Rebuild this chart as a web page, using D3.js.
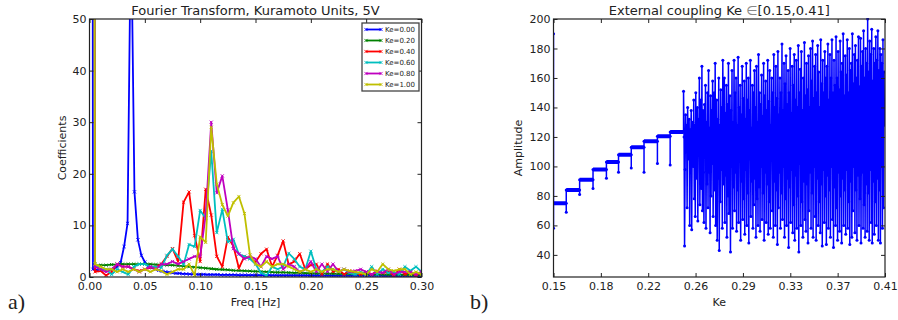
<!DOCTYPE html>
<html><head><meta charset="utf-8">
<script src="https://cdn.jsdelivr.net/npm/d3@7"></script>
<style>
body{margin:0;background:#fff}
svg{display:block}
text{font-family:"DejaVu Sans",sans-serif;fill:#222}
</style>
</head><body>
<svg id="c" width="898" height="320"></svg>
<script>
// ---------------- LEFT PANEL DATA (Fourier coefficients) ----------------
const freqStep = 0.005;        // frequency spacing of the Ke>0 spectra [Hz]
const blueFreqStep = 0.003125; // frequency spacing of the Ke=0.00 spectrum [Hz]
const seriesNames = ["Ke=0.00","Ke=0.20","Ke=0.40","Ke=0.60","Ke=0.80","Ke=1.00"];
const freqTicks = [0.00,0.05,0.10,0.15,0.20,0.25,0.30];
const coefTicks = [0,10,20,30,40,50];

const coefKe000 = [800,1.5,1.4,1.3,1.3,1.3,1.4,1.6,2.0,2.8,5.9,10.4,70,16.5,7.2,4.2,2.9,2.2,1.8,1.5,1.3,1.1,1.0,0.9,0.8,0.7,0.7,0.6,0.6,
 0.55,0.55,0.5,0.5,0.5,0.45,0.45,0.45,0.45,0.4,
 0.4,0.4,0.4,0.4,0.38,0.38,0.38,0.36,0.36,0.36,
 0.35,0.35,0.34,0.34,0.33,0.33,0.32,0.32,0.32,0.31,
 0.31,0.3,0.3,0.3,0.3,0.29,0.29,0.29,0.28,0.28,
 0.28,0.28,0.27,0.27,0.27,0.27,0.26,0.26,0.26,0.26,
 0.26,0.25,0.25,0.25,0.25,0.25,0.24,0.24,0.24,0.24,
 0.24,0.23,0.23,0.23,0.23,0.23,0.22,0.22];
const coefKe020 = [800,2.2,2.3,2.3,2.4,2.4,2.5,2.5,2.5,2.5,
 2.5,2.5,2.4,2.4,2.3,2.3,2.2,2.1,2.0,1.9,
 1.8,1.7,1.6,1.5,1.45,1.4,1.3,1.25,1.2,1.15,
 1.1,1.05,1.0,0.95,0.9,0.9,0.85,0.8,0.8,0.75,
 0.75,0.7,0.7,0.65,0.65,0.6,0.6,0.6,0.55,0.55,
 0.55,0.5,0.5,0.5,0.45,0.45,0.45,0.4,0.4,0.4,0.4];
const coefKe040 = [800,1.0,1.2,0.3,1.0,2.5,2.0,2.0,1.5,1.2,
 1.5,1.8,2.0,2.5,4.0,5.5,3.0,14.5,16.5,8.0,
 3.0,17.0,12.0,4.0,2.0,7.7,6.0,1.7,4.0,3.6,
 2.9,4.5,5.4,2.0,4.2,7.0,2.4,3.0,4.5,1.5,
 2.3,2.5,0.5,2.5,1.0,1.5,0.5,1.2,0.8,0.5,
 1.0,0.5,1.2,0.8,1.0,0.3,1.5,0.5,1.0,0.3,1.0];
const coefKe060 = [800,2.5,1.5,1.5,0.5,1.5,1.0,0.5,2.0,2.5,
 2.5,2.0,2.0,1.8,4.2,5.4,4.0,2.4,6.3,5.9,
 12.9,11.4,24.4,8.6,13.1,6.8,7.3,4.4,4.0,3.5,
 2.5,0.8,0.3,2.0,1.5,2.0,4.6,3.5,2.0,1.5,
 5.0,1.5,1.0,2.0,1.5,1.0,1.5,0.8,0.5,1.0,
 0.5,2.0,0.5,1.5,0.8,1.0,0.5,2.0,1.2,2.0,1.0];
const coefKe080 = [800,2.0,1.5,1.0,1.5,2.5,2.0,2.0,1.5,1.0,
 1.5,2.0,1.5,2.5,2.5,3.0,2.5,3.0,3.5,4.0,
 4.0,12.0,30.0,16.3,19.6,13.0,5.5,4.5,3.5,4.0,
 3.5,2.0,4.0,3.5,4.0,1.5,2.5,2.0,1.0,1.5,
 3.0,1.0,2.5,1.0,2.5,1.0,1.5,1.0,1.2,1.5,
 1.0,0.5,1.0,0.8,1.5,0.5,1.0,1.0,1.0,0.5,1.0];
const coefKe100 = [800,2.5,2.0,1.5,1.5,1.0,1.5,1.0,1.5,1.0,
 1.5,1.0,1.5,1.2,0.5,1.0,1.5,1.5,2.5,0.3,
 7.8,6.7,29.0,18.0,14.0,11.8,14.4,15.6,12.3,4.3,
 2.5,2.0,3.0,2.0,2.5,2.5,2.0,1.5,1.0,1.5,
 1.0,1.5,1.0,1.5,1.5,1.0,1.5,1.2,1.0,0.8,
 0.5,1.5,1.0,2.5,1.5,1.2,1.5,1.5,0.5,1.0,0.5];

// ---------------- RIGHT PANEL DATA (Amplitude vs Ke) ----------------
const keTickLabels = ["0.15","0.18","0.22","0.26","0.29","0.33","0.37","0.41"];
const ampTicks = [40,60,80,100,120,140,160,180,200];
const stepStartKe = [0.150,0.160,0.1705,0.181,0.1915,0.201,0.211,0.221,0.2315,0.2415];
const stepEndKe   = 0.252;
const stepLevel   = [75,84,91,98,103,108,113,117,120.5,123.3];
const stepDip     = [58,69,81,85,92,96,99,96,102,101];
const firstSpike  = 190;
const chaosStartKe = 0.252;
const chaosStepKe  = 0.0004;
const chaosAmp = [
 151,120,46,98,135,110,128,72,140,118,105,132,60,125,115,138,57,122,130,100,
 145,78,128,66,150,92,118,140,63,132,108,160,74,120,145,85,168,70,138,96,
 62,142,110,155,58,130,88,150,72,165,96,126,55,148,80,138,102,158,66,122,
 150,84,170,60,118,145,50,132,92,160,43,128,76,152,98,140,58,172,88,120,
 160,62,136,94,155,52,142,80,170,68,125,148,42,138,100,165,58,130,86,172,
 70,150,96,160,56,128,84,174,62,140,108,155,50,135,90,168,64,146,78,158,
 54,132,98,170,60,145,82,160,48,138,105,172,66,126,90,155,58,150,74,165,
 92,140,52,168,78,130,60,176,86,150,56,142,100,162,64,134,82,170,50,148,
 96,158,62,138,88,172,54,144,76,165,58,128,104,160,70,150,52,176,90,140,
 60,168,84,146,47,178,72,135,96,160,58,150,82,183,64,138,100,170,52,156,
 78,175,60,142,92,165,45,150,86,180,62,136,98,168,55,155,74,176,50,145,
 94,172,58,140,80,182,42,150,102,166,60,178,76,138,52,160,90,184,64,148,
 56,170,88,152,48,175,70,140,96,180,58,158,82,185,52,146,100,168,66,176,
 50,150,92,182,60,164,76,140,55,186,88,156,46,172,98,150,62,178,80,160,
 47,168,94,183,58,145,84,176,52,160,100,186,64,150,45,172,86,155,60,188,
 72,160,50,178,96,152,56,185,80,164,48,170,92,190,60,148,84,175,54,162,
 98,186,58,150,76,180,47,165,90,170,52,190,70,156,100,176,55,182,84,160,
 50,172,94,188,60,154,78,187,48,168,96,178,58,192,74,160,52,180,88,170,
 56,200,82,164,50,185,98,176,62,193,48,158,90,180,54,170,76,188,60,172,
 92,192,50,165,84,180,48,176,100,170,58,186,72,164,128];

// ---------------- DRAWING ----------------
const svg = d3.select("#c");
const FRAME = "#222";
const defs = svg.append("defs");

function drawFrame(g, x, y, L, R, T, B, xTicks, xFmt, yTicks, yFmt) {
  const ax = (sel) => { sel.select(".domain").remove();
    sel.selectAll("line").attr("stroke", FRAME);
    sel.attr("font-family", null).attr("font-size", null);
    sel.selectAll("text").style("font-size","11px").attr("fill","#222"); };
  g.append("g").attr("transform",`translate(0,${B})`)
    .call(d3.axisBottom(x).tickValues(xTicks).tickFormat(xFmt).tickSize(-4).tickPadding(5)).call(ax);
  g.append("g").attr("transform",`translate(0,${T})`)
    .call(d3.axisTop(x).tickValues(xTicks).tickFormat("").tickSize(-4)).call(ax);
  g.append("g").attr("transform",`translate(${L},0)`)
    .call(d3.axisLeft(y).tickValues(yTicks).tickFormat(yFmt).tickSize(-4).tickPadding(3)).call(ax);
  g.append("g").attr("transform",`translate(${R},0)`)
    .call(d3.axisRight(y).tickValues(yTicks).tickFormat("").tickSize(-4)).call(ax);
  g.append("rect").attr("x",L).attr("y",T).attr("width",R-L).attr("height",B-T)
    .attr("fill","none").attr("stroke",FRAME).attr("stroke-width",1.2);
}

// ===== Left panel =====
{
  const L=89.5, R=421.5, T=19, B=277;
  const x = d3.scaleLinear().domain([0,0.30]).range([L,R]);
  const y = d3.scaleLinear().domain([0,50]).range([B,T]);
  const g = svg.append("g");
  defs.append("clipPath").attr("id","clipL")
    .append("rect").attr("x",L).attr("y",T).attr("width",R-L).attr("height",B-T);

  const colors = ["#0000ff","#008000","#ff0000","#00bfbf","#bf00bf","#bfbf00"];
  const series = [
    {vals:coefKe000, df:blueFreqStep},
    {vals:coefKe020, df:freqStep},
    {vals:coefKe040, df:freqStep},
    {vals:coefKe060, df:freqStep},
    {vals:coefKe080, df:freqStep},
    {vals:coefKe100, df:freqStep}
  ];
  const plot = g.append("g").attr("clip-path","url(#clipL)");
  const line = d3.line().x(d=>x(d[0])).y(d=>y(d[1]));
  const xm = "M-1.6,-1.6L1.6,1.6M-1.6,1.6L1.6,-1.6";
  series.forEach((s,i)=>{
    const pts = s.vals.map((v,k)=>[k*s.df, v]);
    plot.append("path").attr("d", line(pts)).attr("fill","none")
      .attr("stroke", colors[i]).attr("stroke-width",1.8).attr("stroke-linejoin","round");
    plot.append("g").selectAll("path").data(pts).join("path")
      .attr("transform", d=>`translate(${x(d[0])},${y(Math.min(d[1],60))})`)
      .attr("d", xm).attr("stroke", colors[i]).attr("stroke-width",0.9).attr("fill","none");
  });

  drawFrame(g, x, y, L, R, T, B, freqTicks, d3.format(".2f"), coefTicks, d3.format("d"));

  // legend
  const lg = g.append("g");
  lg.append("rect").attr("x",362).attr("y",23).attr("width",57).attr("height",68)
    .attr("fill","#fff").attr("stroke","#444").attr("stroke-width",1.3);
  seriesNames.forEach((n,i)=>{
    const yy = 29.5 + i*11;
    lg.append("line").attr("x1",366).attr("x2",381).attr("y1",yy).attr("y2",yy)
      .attr("stroke",colors[i]).attr("stroke-width",1.8);
    [366,381].forEach(xx=>lg.append("path").attr("transform",`translate(${xx},${yy})`)
      .attr("d",xm).attr("stroke",colors[i]).attr("stroke-width",0.9));
    lg.append("text").attr("x",385).attr("y",yy).attr("dy","0.35em")
      .style("font-size","7px").text(n);
  });

  g.append("text").attr("x",(L+R)/2).attr("y",15).attr("text-anchor","middle")
    .style("font-size","13px").text("Fourier Transform, Kuramoto Units, 5V");
  g.append("text").attr("x",(L+R)/2).attr("y",306).attr("text-anchor","middle")
    .style("font-size","11px").text("Freq [Hz]");
  g.append("text").attr("transform",`translate(66,${(T+B)/2}) rotate(-90)`)
    .attr("text-anchor","middle").style("font-size","11px").text("Coefficients");
  g.append("text").attr("x",8).attr("y",309)
    .style("font-family","'Liberation Serif',serif").style("font-size","22px").attr("fill","#000").text("a)");
}

// ===== Right panel =====
{
  const L=553.5, R=885, T=19, B=277;
  const x = d3.scaleLinear().domain([0.15,0.41]).range([L,R]);
  const y = d3.scaleLinear().domain([25,200]).range([B,T]);
  const g = svg.append("g");
  defs.append("clipPath").attr("id","clipR")
    .append("rect").attr("x",L).attr("y",T-1).attr("width",R-L).attr("height",B-T+1);
  const plot = g.append("g").attr("clip-path","url(#clipR)");
  const blue = "#0000ff";
  const line = d3.line().x(d=>x(d[0])).y(d=>y(d[1]));

  const stair = [[stepStartKe[0], firstSpike]];
  stepStartKe.forEach((s,i)=>{
    const e = i < stepStartKe.length-1 ? stepStartKe[i+1] : stepEndKe;
    stair.push([s, stepDip[i]], [s, stepLevel[i]], [e, stepLevel[i]]);
  });
  const chaos = chaosAmp.map((v,k)=>[chaosStartKe + k*chaosStepKe, v]);
  const all = stair.concat(chaos);

  plot.append("path").attr("d", line(all)).attr("fill","none")
    .attr("stroke", blue).attr("stroke-width",1.5).attr("stroke-linejoin","round");
  stepStartKe.forEach((s,i)=>{
    const e = i < stepStartKe.length-1 ? stepStartKe[i+1] : stepEndKe;
    plot.append("line").attr("x1",x(s)).attr("x2",x(e)).attr("y1",y(stepLevel[i])).attr("y2",y(stepLevel[i]))
      .attr("stroke",blue).attr("stroke-width",4);
  });
  plot.append("g").selectAll("circle").data(all).join("circle")
    .attr("cx",d=>x(d[0])).attr("cy",d=>y(d[1])).attr("r",1.5).attr("fill",blue);

  const keTicks = keTickLabels.map((t,i)=>0.15 + i*(0.41-0.15)/(keTickLabels.length-1));
  drawFrame(g, x, y, L, R, T, B, keTicks, (d,i)=>keTickLabels[i], ampTicks, d3.format("d"));

  const t = g.append("text").attr("x",(L+R)/2).attr("y",15).attr("text-anchor","middle")
    .style("font-size","13px");
  t.append("tspan").text("External coupling Ke ");
  t.append("tspan").attr("fill","#888").text("\u2208");
  t.append("tspan").text("[0.15,0.41]");
  g.append("text").attr("x",(L+R)/2).attr("y",306).attr("text-anchor","middle")
    .style("font-size","11px").text("Ke");
  g.append("text").attr("transform",`translate(522,${(T+B)/2}) rotate(-90)`)
    .attr("text-anchor","middle").style("font-size","11px").text("Amplitude");
  g.append("text").attr("x",470).attr("y",309)
    .style("font-family","'Liberation Serif',serif").style("font-size","22px").attr("fill","#000").text("b)");
}
</script>
</body></html>
